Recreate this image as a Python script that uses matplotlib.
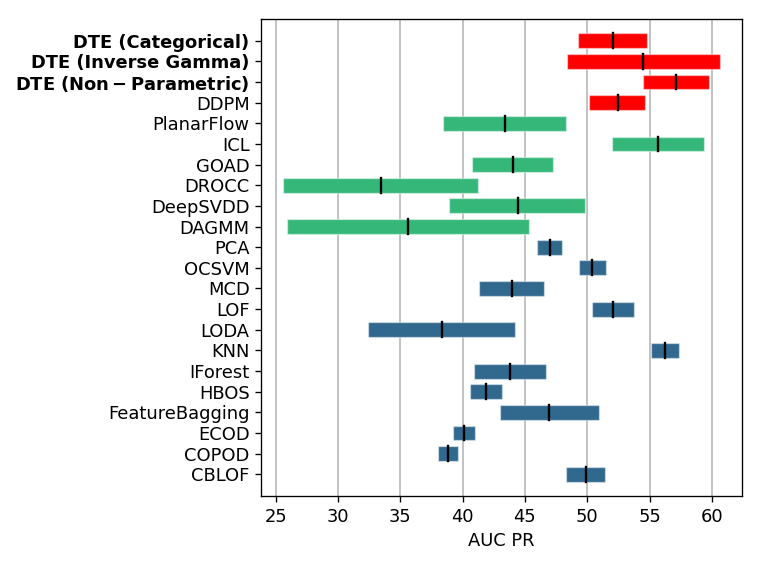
import matplotlib
matplotlib.use("Agg")
import matplotlib.pyplot as plt

methods = ["DTE (Categorical)", "DTE (Inverse Gamma)", r"$\bf{DTE\ (Non-Parametric)}$", "DDPM",
           "PlanarFlow", "ICL", "GOAD", "DROCC", "DeepSVDD", "DAGMM",
           "PCA", "OCSVM", "MCD", "LOF", "LODA", "KNN", "IForest", "HBOS",
           "FeatureBagging", "ECOD", "COPOD", "CBLOF"]
low = [49.28, 48.34, 54.49, 50.16,
       38.42, 51.98, 40.78, 25.59, 38.93, 25.91,
       45.99, 49.36, 41.34, 50.37, 32.41, 55.08, 40.91, 40.61,
       42.99, 39.25, 38.02, 48.32]
high = [54.76, 60.64, 59.79, 54.65,
        48.32, 59.39, 47.22, 41.26, 49.84, 45.35,
        47.97, 51.47, 46.52, 53.74, 44.22, 57.33, 46.68, 43.16,
        50.91, 40.96, 39.60, 51.39]
median = [52.03, 54.49, 57.14, 52.43,
          43.37, 55.70, 44.01, 33.45, 44.41, 35.64,
          46.98, 50.40, 43.93, 52.06, 38.32, 56.20, 43.80, 41.90,
          46.95, 40.11, 38.82, 49.87]
groups = ["dte", "dte", "dte", "dte",
          "dl", "dl", "dl", "dl", "dl", "dl",
          "cl", "cl", "cl", "cl", "cl", "cl", "cl", "cl",
          "cl", "cl", "cl", "cl"]
group_colors = {"dte": "#ff0000", "dl": "#35b779", "cl": "#31688e"}
bold = [True, True, True, False] + [False] * 18

plt.rcParams['font.family'] = ['DejaVu Sans']
plt.rcParams['font.size'] = 10.7
plt.rcParams['mathtext.fontset'] = 'dejavusans'

fig = plt.figure(figsize=(761 / 120, 571 / 120), dpi=120)
ax = fig.add_axes([0.3432, 0.1313, 0.6314, 0.8354])

n = len(methods)
ys = [n - 1 - i for i in range(n)]
ax.set_axisbelow(True)
ax.grid(axis='x', color='#b0b0b0', linewidth=0.9)
for y, lo, hi, md, g in zip(ys, low, high, median, groups):
    ax.barh(y, hi - lo, left=lo, height=0.72, color=group_colors[g],
            edgecolor=(1, 1, 1, 0.45), linewidth=0.8, zorder=2)
    ax.plot([md, md], [y - 0.36, y + 0.36], color='black', linewidth=1.4, zorder=3)

ax.set_yticks(ys)
ax.set_yticklabels(methods)
for lbl, b in zip(ax.get_yticklabels(), bold):
    if b:
        lbl.set_fontweight('bold')
ax.set_xticks([25, 30, 35, 40, 45, 50, 55, 60])
ax.set_xlim(23.84, 62.39)
ax.set_ylim(-1.05, n - 1 + 1.05)
ax.set_xlabel("AUC PR")

fig.savefig("out.png", dpi=120)
